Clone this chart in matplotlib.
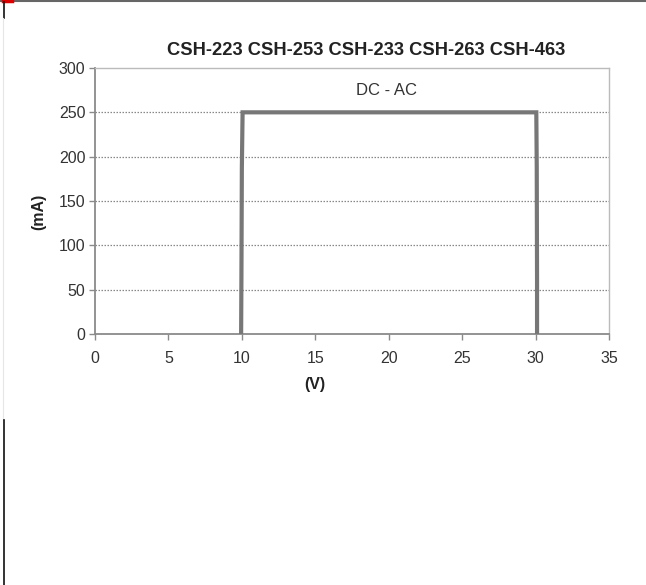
import matplotlib
matplotlib.use("Agg")
import matplotlib.pyplot as plt
from matplotlib.lines import Line2D

plt.rcParams['font.family'] = ['Liberation Sans', 'DejaVu Sans']

# Data
voltage = [9.95, 9.97, 10.0, 10.05, 30.05, 30.08, 30.1, 30.1]
current = [0, 62.5, 187.5, 250, 250, 187.5, 62.5, 0]
x_ticks = [0, 5, 10, 15, 20, 25, 30, 35]
y_ticks = [0, 50, 100, 150, 200, 250, 300]
title = "CSH-223 CSH-253 CSH-233 CSH-263 CSH-463"
annotation = "DC - AC"
x_label = "(V)"
y_label = "(mA)"

W, H = 646, 585
fig = plt.figure(figsize=(W / 100, H / 100), dpi=100)
fig.patch.set_facecolor('white')

ax = fig.add_axes([95 / W, 1 - 334 / H, (609 - 95) / W, (334 - 68) / H])
ax.plot(voltage, current, color='#777777', lw=3.0, solid_joinstyle='miter', zorder=3)

ax.set_xlim(0, 35)
ax.set_ylim(0, 300)
ax.set_xticks(x_ticks)
ax.set_yticks(y_ticks)
for y in y_ticks[1:-1]:
    ax.axhline(y, color='#888888', lw=0.9, ls=(0, (1.2, 1.2)), zorder=1)

for s in ['left', 'bottom']:
    ax.spines[s].set_color('#8a8a8a')
    ax.spines[s].set_linewidth(1.3)
for s in ['top', 'right']:
    ax.spines[s].set_color('#bbbbbb')
    ax.spines[s].set_linewidth(1.0)

ax.tick_params(axis='both', direction='out', length=4, width=1, color='#8a8a8a',
               labelsize=11.5, labelcolor='#333333')
ax.tick_params(axis='x', pad=8)
ax.tick_params(axis='y', pad=3)

ax.set_xlabel(x_label, fontsize=11.5, fontweight='bold', color='#222222')
ax.xaxis.set_label_coords(0.427, -0.16)
ax.set_ylabel(y_label, fontsize=11.5, fontweight='bold', color='#222222')
ax.yaxis.set_label_coords(-0.095, 0.459)
ax.text(0.527, 1.065, title, transform=ax.transAxes, ha='center', va='center',
        fontsize=13.2, fontweight='bold', color='#222222')
ax.text(0.568, 0.917, annotation, transform=ax.transAxes, ha='center', va='center',
        fontsize=12, color='#333333')

# Page frame artifacts
fig.add_artist(Line2D([0, 1], [1 - 1 / H, 1 - 1 / H], transform=fig.transFigure,
                      color='#666666', lw=1.5))
fig.add_artist(Line2D([3 / W, 12 / W], [1 - 1 / H, 1 - 1 / H], transform=fig.transFigure,
                      color='#dd0000', lw=2.5))
fig.add_artist(Line2D([3.5 / W, 3.5 / W], [1 - 2 / H, 1 - 18 / H], transform=fig.transFigure,
                      color='#111111', lw=1.2))
fig.add_artist(Line2D([2.5 / W, 2.5 / W], [1 - 18 / H, 1 - 420 / H], transform=fig.transFigure,
                      color='#e6e6e6', lw=0.8))
fig.add_artist(Line2D([3.5 / W, 3.5 / W], [1 - 420 / H, 0], transform=fig.transFigure,
                      color='#111111', lw=1.2))

fig.savefig('out.png', dpi=100)
